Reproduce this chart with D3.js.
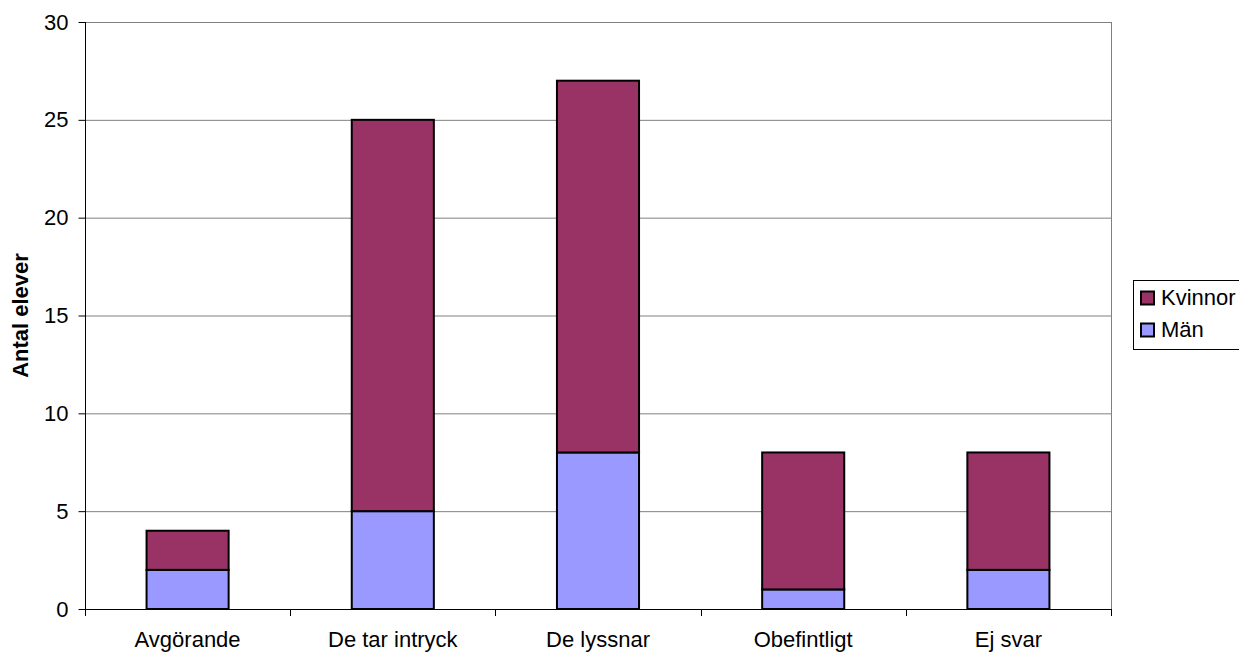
<!DOCTYPE html>
<html><head><meta charset="utf-8">
<script src="https://cdn.jsdelivr.net/npm/d3@7"></script>
<style>body{margin:0;background:#fff;}svg{display:block;font-family:"Liberation Sans",Arial,sans-serif;}</style>
</head><body>
<svg id="c" width="1239" height="652"></svg>
<script>
const categories = ["Avgörande","De tar intryck","De lyssnar","Obefintligt","Ej svar"];
const man = [2,5,8,1,2];
const kvinnor = [2,20,19,7,6];
const yTicks = [0,5,10,15,20,25,30];
const seriesNames = ["Män","Kvinnor"];
const colors = {"Män":"#9999FF","Kvinnor":"#993366"};

const svg = d3.select("#c");
const L=85, R=1111, T=22, B=609;
const x = d3.scaleBand().domain(categories).range([L,R]).paddingInner(0.6).paddingOuter(0.3);
const xb = d3.scaleBand().domain(categories).range([L,R]);
const y = d3.scaleLinear().domain([0,30]).range([B,T]);

// gridlines
svg.append("g").selectAll("line").data(yTicks.filter(d=>d>0)).join("line")
  .attr("x1",L).attr("x2",R).attr("y1",d=>y(d)+0.5).attr("y2",d=>y(d)+0.5)
  .attr("stroke","#808080").attr("stroke-width",1);
// right border
svg.append("line").attr("x1",R+0.5).attr("x2",R+0.5).attr("y1",T).attr("y2",B).attr("stroke","#808080");

const data = categories.map((c,i)=>({cat:c,"Män":man[i],"Kvinnor":kvinnor[i]}));
const stack = d3.stack().keys(seriesNames)(data);
svg.append("g").selectAll("g").data(stack).join("g").attr("fill",d=>colors[d.key])
  .selectAll("rect").data(d=>d).join("rect")
  .attr("x",d=>x(d.data.cat)).attr("width",x.bandwidth())
  .attr("y",d=>y(d[1])).attr("height",d=>y(d[0])-y(d[1]))
  .attr("stroke","#000").attr("stroke-width",2);

// y axis
const ya = d3.axisLeft(y).tickValues(yTicks).tickSize(7).tickPadding(10);
const gy = svg.append("g").attr("transform",`translate(${L+0.5},0)`).call(ya);
gy.select(".domain").attr("stroke","#000").attr("d",`M0,${T}V${B}`);
gy.selectAll(".tick line").attr("stroke","#000");
gy.selectAll("text").attr("font-size",22).attr("font-family","Liberation Sans, Arial, sans-serif").attr("fill","#000");

// x axis
svg.append("line").attr("x1",L).attr("x2",R+1).attr("y1",B+0.5).attr("y2",B+0.5).attr("stroke","#000");
const bounds = categories.map(c=>xb(c)).concat([R]);
svg.append("g").selectAll("line").data(bounds).join("line")
  .attr("x1",d=>Math.round(d)+0.5).attr("x2",d=>Math.round(d)+0.5).attr("y1",B).attr("y2",B+7).attr("stroke","#000");
svg.append("g").selectAll("text").data(categories).join("text")
  .attr("x",d=>xb(d)+xb.bandwidth()/2).attr("y",647).attr("text-anchor","middle")
  .attr("font-size",22).text(d=>d);

// y label
svg.append("text").attr("transform",`translate(28,${(T+B)/2}) rotate(-90)`).attr("text-anchor","middle")
  .attr("font-size",22).attr("font-weight","bold").text("Antal elever");

// legend
const lg = svg.append("g");
lg.append("rect").attr("x",1133.5).attr("y",280.5).attr("width",120).attr("height",69).attr("fill","#fff").attr("stroke","#000");
const legItems = ["Kvinnor","Män"];
legItems.forEach((k,i)=>{
  const yy = 298 + i*32;
  lg.append("rect").attr("x",1141).attr("y",yy-6.5).attr("width",13).attr("height",13).attr("fill",colors[k]).attr("stroke","#000").attr("stroke-width",2);
  lg.append("text").attr("x",1161).attr("y",yy+7).attr("font-size",22).text(k);
});
</script>
</body></html>
